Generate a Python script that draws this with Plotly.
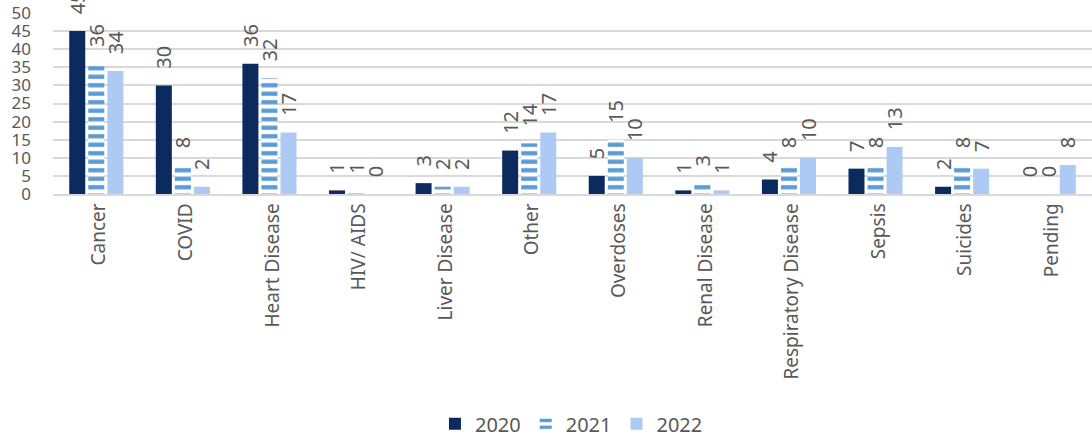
import plotly.graph_objects as go

categories = ["Cancer", "COVID", "Heart Disease", "HIV/ AIDS", "Liver Disease", "Other",
              "Overdoses", "Renal Disease", "Respiratory Disease", "Sepsis", "Suicides", "Pending"]
v2020 = [45, 30, 36, 1, 3, 12, 5, 1, 4, 7, 2, 0]
v2021 = [36, 8, 32, 1, 2, 14, 15, 3, 8, 8, 8, 0]
v2022 = [34, 2, 17, 0, 2, 17, 10, 1, 10, 13, 7, 8]
yticks = [0, 5, 10, 15, 20, 25, 30, 35, 40, 45, 50]

FONT = "Noto Sans"
GRAY = "#595959"
tfont = dict(family=FONT, size=20, color=GRAY)
PAD = "\u00a0\u00a0\u2009"  # gap between bar end and rotated label


def labels(vals):
    return [PAD + str(v) for v in vals]


fig = go.Figure()
common = dict(textposition="outside", textangle=-90, textfont=tfont, cliponaxis=False,
              constraintext="none", hoverinfo="x+y")
fig.add_trace(go.Bar(name="2020", x=categories, y=v2020, marker=dict(color="#0b2b5f", line=dict(width=0)),
                     text=labels(v2020), **common))
fig.add_trace(go.Bar(name="2021", x=categories, y=v2021,
                     marker=dict(color="#ffffff", line=dict(width=0),
                                 pattern=dict(shape="-", fgcolor="#5b9bd5", bgcolor="#ffffff",
                                              size=8.5, solidity=0.5, fillmode="replace")),
                     text=labels(v2021), **common))
fig.add_trace(go.Bar(name="2022", x=categories, y=v2022, marker=dict(color="#adcaf5", line=dict(width=0)),
                     text=labels(v2022), **common))

fig.update_layout(
    width=1092, height=440,
    margin=dict(l=53, r=0, t=13, b=246, autoexpand=False),
    plot_bgcolor="white", paper_bgcolor="white",
    barmode="group", bargap=0.34, bargroupgap=0.16,
    font=dict(family=FONT, size=17, color=GRAY),
    legend=dict(orientation="h", x=0.499, xanchor="center", y=-1.27, yanchor="middle",
                font=dict(family=FONT, size=20, color=GRAY), traceorder="normal"),
    xaxis=dict(tickangle=-90, showline=True, linecolor="#d9d9d9", linewidth=1.5, automargin=False,
               ticks="", ticklabelshift=3, tickfont=dict(family=FONT, size=19, color=GRAY)),
    yaxis=dict(range=[0, 50], tickvals=yticks, showgrid=True, gridcolor="#d9d9d9", gridwidth=1.5,
               zeroline=False, ticks="", ticklabelstandoff=21, automargin=False,
               tickfont=dict(family=FONT, size=17, color=GRAY)),
)
fig.write_html("out.html", config={"displayModeBar": False},
               post_script="document.body.style.margin='0px';document.body.style.overflow='hidden';")
